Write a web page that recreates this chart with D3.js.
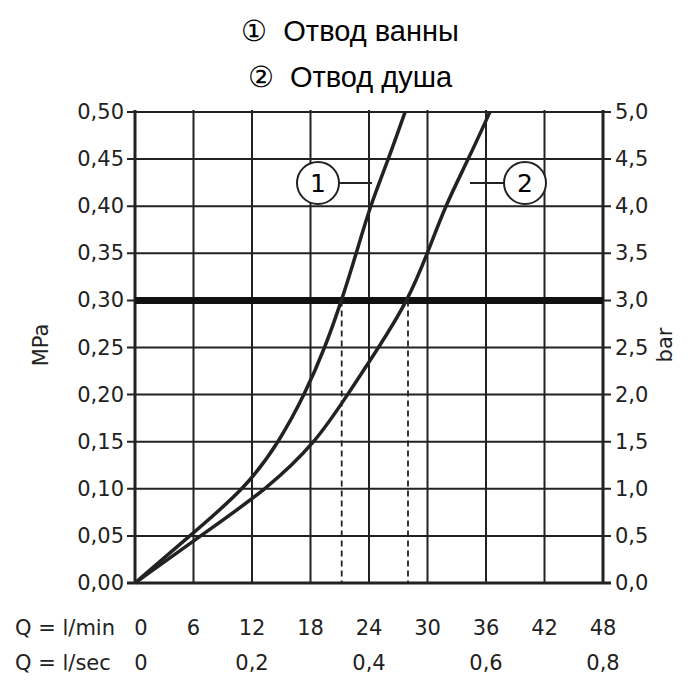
<!DOCTYPE html>
<html><head><meta charset="utf-8">
<script src="https://cdn.jsdelivr.net/npm/d3@7"></script>
<style>body{margin:0;background:#fff}</style>
</head><body><div id="chart"></div>
<script>
const titles = ["\u2460  Отвод ванны", "\u2461  Отвод душа"];
const mpaTicks = [0, 0.05, 0.1, 0.15, 0.2, 0.25, 0.3, 0.35, 0.4, 0.45, 0.5];
const qMinTicks = [0, 6, 12, 18, 24, 30, 36, 42, 48];
const qSecTicks = [0, 0.2, 0.4, 0.6, 0.8];
const curve1 = [[0, 0], [5.6, 0.05], [11.3, 0.1], [14.8, 0.15], [17.4, 0.2], [19.5, 0.25], [21.2, 0.3], [22.7, 0.35], [24.1, 0.4], [26, 0.45], [27.7, 0.5]];
const curve2 = [[0, 0], [6.7, 0.05], [13.6, 0.1], [18.6, 0.15], [21.8, 0.2], [25, 0.25], [28, 0.3], [30, 0.35], [31.8, 0.4], [34.2, 0.45], [36.4, 0.5]];
const dashedAt = [21.2, 28];

const svg = d3.select("#chart").append("svg").attr("width", 700).attr("height", 700);
const x = d3.scaleLinear().domain([0, 48]).range([135, 603]);
const y = d3.scaleLinear().domain([0, 0.5]).range([583, 112]);
const font = "DejaVu Sans, sans-serif";

svg.selectAll(".title").data(titles).enter().append("text")
	.attr("x", 350).attr("y", (d, i) => 41 + i * 46)
	.attr("text-anchor", "middle").attr("font-family", "Liberation Sans, Arial").attr("font-size", 29)
	.attr("xml:space", "preserve").style("white-space", "pre")
	.text(d => d);

const g = svg.append("g");
g.selectAll(".vg").data(qMinTicks).enter().append("line")
	.attr("x1", d => x(d)).attr("x2", d => x(d)).attr("y1", y(0)).attr("y2", y(0.5) - 2)
	.attr("stroke", "#222").attr("stroke-width", d => (d === 0 || d === 48) ? 3 : 2);
g.selectAll(".hg").data(mpaTicks).enter().append("line")
	.attr("x1", x(0) - 8).attr("x2", x(48) + 8).attr("y1", d => y(d)).attr("y2", d => y(d))
	.attr("stroke", "#222").attr("stroke-width", d => d === 0 ? 3 : 2);
g.append("line").attr("x1", x(0)).attr("x2", x(48)).attr("y1", y(0.3)).attr("y2", y(0.3))
	.attr("stroke", "#111").attr("stroke-width", 7);

g.selectAll(".dash").data(dashedAt).enter().append("line")
	.attr("x1", d => x(d)).attr("x2", d => x(d)).attr("y1", y(0.3)).attr("y2", y(0))
	.attr("stroke", "#222").attr("stroke-width", 1.8).attr("stroke-dasharray", "6,4");

const line = d3.line().x(d => x(d[0])).y(d => y(d[1])).curve(d3.curveBasis);
[curve1, curve2].forEach(c => g.append("path").attr("d", line(c))
	.attr("fill", "none").attr("stroke", "#222").attr("stroke-width", 3.5));

const labels = [{n: "1", cx: 318, cy: 183, lx: 372}, {n: "2", cx: 525, cy: 183, lx: 470}];
labels.forEach(l => {
	g.append("line").attr("x1", l.cx).attr("x2", l.lx).attr("y1", l.cy).attr("y2", l.cy)
		.attr("stroke", "#222").attr("stroke-width", 2);
	g.append("circle").attr("cx", l.cx).attr("cy", l.cy).attr("r", 21)
		.attr("fill", "#fff").attr("stroke", "#222").attr("stroke-width", 2);
	g.append("text").attr("x", l.cx).attr("y", l.cy + 9).attr("text-anchor", "middle")
		.attr("font-family", font).attr("font-size", 25).text(l.n);
});

const fmtComma = (d, n) => d.toFixed(n).replace(".", ",");
svg.selectAll(".yl").data(mpaTicks).enter().append("text")
	.attr("x", 124).attr("y", d => y(d) + 7).attr("text-anchor", "end")
	.attr("font-family", font).attr("font-size", 21).attr("fill", "#222").text(d => fmtComma(d, 2));
svg.selectAll(".yr").data(mpaTicks).enter().append("text")
	.attr("x", 615).attr("y", d => y(d) + 7)
	.attr("font-family", font).attr("font-size", 21).attr("fill", "#222").text(d => fmtComma(d * 10, 1));

svg.append("text").attr("transform", "translate(48,345) rotate(-90)").attr("text-anchor", "middle")
	.attr("font-family", font).attr("font-size", 21).attr("fill", "#222").text("MPa");
svg.append("text").attr("transform", "translate(672,345) rotate(-90)").attr("text-anchor", "middle")
	.attr("font-family", font).attr("font-size", 21).attr("fill", "#222").text("bar");

svg.append("text").attr("x", 15).attr("y", 635).attr("font-family", font).attr("font-size", 21)
	.attr("fill", "#222").text("Q = l/min");
svg.append("text").attr("x", 15).attr("y", 670).attr("font-family", font).attr("font-size", 21)
	.attr("fill", "#222").text("Q = l/sec");
svg.selectAll(".xm").data(qMinTicks).enter().append("text")
	.attr("x", (d, i) => i === 0 ? x(d) + 6 : x(d)).attr("y", 635).attr("text-anchor", "middle")
	.attr("font-family", font).attr("font-size", 21).attr("fill", "#222").text(d => d);
svg.selectAll(".xs").data(qSecTicks).enter().append("text")
	.attr("x", (d, i) => i === 0 ? x(d * 60) + 6 : x(d * 60)).attr("y", 670).attr("text-anchor", "middle")
	.attr("font-family", font).attr("font-size", 21).attr("fill", "#222").text(d => d === 0 ? "0" : fmtComma(d, 1));
</script></body></html>
